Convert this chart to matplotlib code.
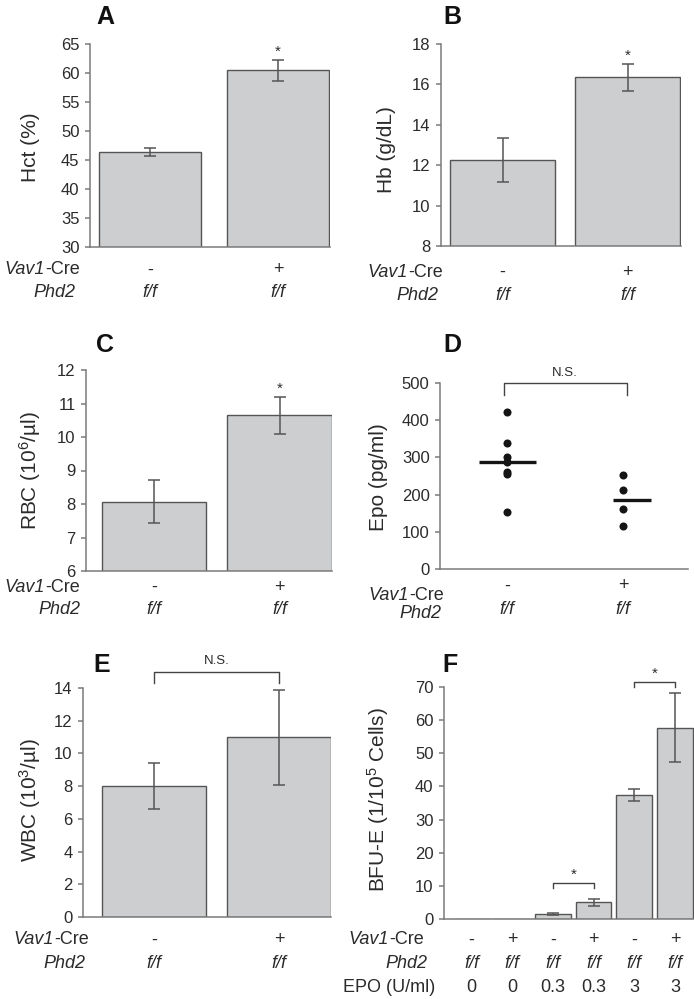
"""
Six-panel haematology figure (Hct, Hb, RBC, Epo, WBC, BFU-E) for
Vav1-Cre;Phd2 f/f mice, redrawn with matplotlib.
"""

import matplotlib
import matplotlib.pyplot as plt
import matplotlib.transforms as mtransforms
import numpy as np

matplotlib.use('Agg')
matplotlib.rcParams.update(
    {
        'font.family': ['Liberation Sans', 'DejaVu Sans'],
        'mathtext.fontset': 'custom',
        'mathtext.rm': 'Liberation Sans',
        'mathtext.it': 'Liberation Sans:italic',
        'mathtext.bf': 'Liberation Sans:bold',
    }
)

# ——— Data —————————————————————————————————————————————————————————————————————
groups = ['-', '+']
genotype = ['f/f', 'f/f']

hct_mean = [46.4, 60.5]
hct_err = [0.75, 1.8]

hb_mean = [12.25, 16.35]
hb_err = [1.1, 0.67]

rbc_mean = [8.07, 10.65]
rbc_err = [0.64, 0.55]

epo_wt = [421, 340, 300, 287, 260, 255, 153]
epo_ko = [253, 213, 161, 115]

wbc_mean = [8.0, 11.0]
wbc_err = [1.4, 2.9]

bfu_cre = ['-', '+', '-', '+', '-', '+']
bfu_phd2 = ['f/f'] * 6
bfu_epo = ['0', '0', '0.3', '0.3', '3', '3']
bfu_mean = [0.0, 0.0, 1.5, 5.0, 37.5, 57.7]
bfu_err = [0.0, 0.0, 0.2, 1.1, 1.85, 10.35]

# ——— Style ————————————————————————————————————————————————————————————————————
W, H = 694, 999
BAR = '#cdcecf'
EDGE = '#555555'
SPINE = '#7a7a7a'
TEXT = '#2b2b2b'
TICK_FS = 12
LABEL_FS = 15
ROW_FS = 13
# row names: (italic part, upright part)
CRE = ('Vav1', '-Cre')
PHD = ('Phd2', '')
EPO = ('', 'EPO (U/ml)')

fig = plt.figure(figsize=(W / 100, H / 100), dpi=100)
fig.patch.set_facecolor('white')


def px_axes(left, top, right, bottom):
    return fig.add_axes([left / W, 1 - bottom / H, (right - left) / W, (bottom - top) / H])


def style(ax, yticks, xlim):
    for s in ('top', 'right'):
        ax.spines[s].set_visible(False)
    for s in ('left', 'bottom'):
        ax.spines[s].set_color(SPINE)
        ax.spines[s].set_linewidth(1.1)
    ax.set_xticks([])
    ax.set_xlim(*xlim)
    ax.set_yticks(yticks)
    ax.set_ylim(yticks[0], yticks[-1])
    ax.tick_params(axis='y', length=3.5, width=1.1, color=SPINE, labelsize=TICK_FS,
                   labelcolor=TEXT, pad=4)


def ylabel(ax, text, x_px, y_px):
    ax.set_ylabel(text, fontsize=LABEL_FS, color=TEXT)
    ax.yaxis.set_label_coords(x_px / W, 1 - y_px / H, transform=fig.transFigure)
    ax.yaxis.label.set_va('center')


def letter(text, x_px, y_px):
    fig.text(x_px / W, 1 - y_px / H, text, fontsize=18, fontweight='bold',
             ha='center', va='center', color='#111111')


def row_name(name, x_px, y_px):
    """Right-aligned row name; italic gene part followed by an upright suffix."""
    ital, plain = name
    left_px = x_px
    if plain:
        txt = fig.text(x_px / W, 1 - y_px / H, plain, fontsize=ROW_FS, color=TEXT,
                       ha='right', va='center')
        fig.canvas.draw()
        left_px = txt.get_window_extent().x0
    if ital:
        fig.text(left_px / W, 1 - y_px / H, ital, fontsize=ROW_FS, color=TEXT,
                 style='italic', ha='right', va='center')


def cond_rows(ax, xs, values, names, row_y_px, name_x_px, name_y_px=None):
    if name_y_px is None:
        name_y_px = row_y_px
    trans = mtransforms.blended_transform_factory(ax.transData, fig.transFigure)
    for vals, name, ry, nx, ny in zip(values, names, row_y_px, name_x_px, name_y_px):
        italic = vals[0].startswith('f')
        for x, v in zip(xs, vals):
            ax.text(x, 1 - ry / H, v, transform=trans, fontsize=ROW_FS, color=TEXT,
                    ha='center', va='center', style='italic' if italic else 'normal')
        row_name(name, nx, ny)


def bars(ax, xs, mean, err, width):
    ax.bar(xs, mean, width=width, color=BAR, edgecolor=EDGE, linewidth=1.0, zorder=2)
    mask = np.asarray(mean) > 0
    ax.errorbar(np.asarray(xs)[mask], np.asarray(mean)[mask], yerr=np.asarray(err)[mask],
                fmt='none', ecolor=EDGE, elinewidth=1.1, capsize=4.5, capthick=1.1, zorder=3)


def star(ax, x, y):
    ax.annotate('*', (x, y), xytext=(0, 6), textcoords='offset points', ha='center',
                va='center', fontsize=11, color=TEXT, annotation_clip=False)


def bracket(ax, x0, x1, top, leg, label, fs, dy):
    ax.plot([x0, x0, x1, x1], [top - leg, top, top, top - leg], color='#444444', lw=1.0,
            clip_on=False, zorder=4)
    ax.text((x0 + x1) / 2, top + dy, label, ha='center', va='center', fontsize=fs,
            color=TEXT, clip_on=False)


two = [0, 1]

# ——— A: Hct ———————————————————————————————————————————————————————————————————
ax = px_axes(90, 44, 330, 247)
bars(ax, two, hct_mean, hct_err, 0.8)
style(ax, list(range(30, 66, 5)), (-0.469, 1.406))
star(ax, 1, hct_mean[1] + hct_err[1])
ylabel(ax, 'Hct (%)', 30, 147)
cond_rows(ax, two, [groups, genotype], [CRE, PHD], [270, 293], [80, 75])
letter('A', 105, 17)

# ——— B: Hb ————————————————————————————————————————————————————————————————————
ax = px_axes(441, 44, 681, 246)
bars(ax, two, hb_mean, hb_err, 0.84)
style(ax, list(range(8, 19, 2)), (-0.492, 1.428))
star(ax, 1, hb_mean[1] + hb_err[1])
ylabel(ax, 'Hb (g/dL)', 386, 150)
cond_rows(ax, two, [groups, genotype], [CRE, PHD], [272, 295], [443, 438])
letter('B', 452, 17)

# ——— C: RBC ———————————————————————————————————————————————————————————————————
ax = px_axes(86, 370, 332, 571)
bars(ax, two, rbc_mean, rbc_err, 0.83)
style(ax, list(range(6, 13)), (-0.542, 1.418))
star(ax, 1, rbc_mean[1] + rbc_err[1])
ylabel(ax, r'RBC (10$^{6}$/µl)', 30, 470)
cond_rows(ax, two, [groups, genotype], [CRE, PHD], [587, 610], [80, 80])
letter('C', 105, 345)

# ——— D: Epo ———————————————————————————————————————————————————————————————————
ax = px_axes(440, 383, 688, 569)
for x, vals, (lo, hi) in zip(two, [epo_wt, epo_ko], [(-0.24, 0.25), (-0.09, 0.24)]):
    ax.plot([x] * len(vals), vals, 'o', ms=5.8, color='#151515', mec='none', zorder=3)
    ax.plot([x + lo, x + hi], [np.mean(vals)] * 2, color='#151515', lw=2.4,
            solid_capstyle='butt', zorder=4)
style(ax, list(range(0, 501, 100)), (-0.578, 1.56))
bracket(ax, -0.03, 1.03, 500, 32, 'N.S.', 9.5, 28)
ylabel(ax, 'Epo (pg/ml)', 379, 477)
cond_rows(ax, two, [groups, genotype], [CRE, PHD], [586, 609], [444, 441], [595, 613])
letter('D', 452, 345)

# ——— E: WBC ———————————————————————————————————————————————————————————————————
ax = px_axes(83, 688, 331, 917)
bars(ax, two, wbc_mean, wbc_err, 0.83)
style(ax, list(range(0, 15, 2)), (-0.568, 1.416))
bracket(ax, 0, 1, 15.0, 0.7, 'N.S.', 9.5, 0.65)
ylabel(ax, r'WBC (10$^{3}$/µl)', 30, 800)
cond_rows(ax, two, [groups, genotype], [CRE, PHD], [940, 963], [89, 85])
letter('E', 102, 665)

# ——— F: BFU-E —————————————————————————————————————————————————————————————————
six = list(range(6))
ax = px_axes(444, 687, 694, 919)
bars(ax, six, bfu_mean, bfu_err, 0.88)
style(ax, list(range(0, 71, 10)), (-0.68, 5.47))
bracket(ax, 2, 3, 10.9, 1.5, '*', 11, 2.4)
bracket(ax, 4, 5, 71.5, 1.6, '*', 11, 2.6)
ylabel(ax, r'BFU-E (1/10$^{5}$ Cells)', 378, 800)
cond_rows(ax, six, [bfu_cre, bfu_phd2, bfu_epo], [CRE, PHD, EPO],
          [940, 963, 987], [424, 427, 435])
letter('F', 450, 665)

fig.savefig('out.png', dpi=100, facecolor='white')
plt.close(fig)
